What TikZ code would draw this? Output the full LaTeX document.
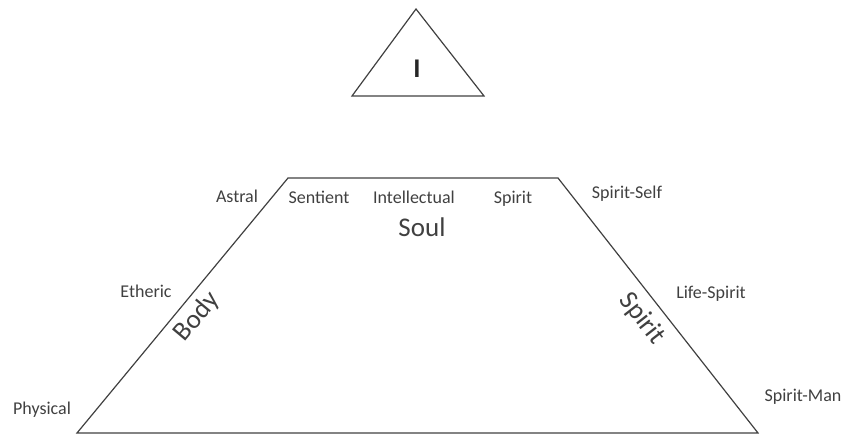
\documentclass[tikz,border=0pt]{standalone}
\usepackage{fontspec}
\setmainfont{Carlito}
\usetikzlibrary{positioning}
\definecolor{inkgray}{RGB}{64,64,64}

\begin{document}
\begin{tikzpicture}[x=1pt,y=-1pt,
  lbl/.style={font=\fontsize{18}{20}\selectfont,text=inkgray,inner sep=0pt,anchor=base},
  big/.style={lbl,font=\fontsize{27}{30}\selectfont},
  edge/.style={draw=inkgray,line width=1.2pt,line join=miter}
]
\useasboundingbox (0,0) rectangle (844,435);
% the I triangle
\coordinate (itop) at (416,9);
\coordinate (ileft) at (352,96);
\coordinate (iright) at (484,96);
\draw[edge] (itop) -- (ileft) -- (iright) -- cycle;
\node[big,font=\fontsize{27}{30}\selectfont\bfseries,text=black!85] (ego) at (417,78) {I};

% trapezoid
\coordinate (tl) at (288,178);
\coordinate (tr) at (558,178);
\coordinate (br) at (758,433);
\coordinate (bl) at (77,433);
\draw[edge] (bl) -- (tl) -- (tr) -- (br) -- cycle;

% soul members along the top
\node[lbl] (sentient) at (319,204) {Sentient};
\node[lbl] (intellect) at (414,204) {Intellectual};
\node[lbl] (spiritsoul) at (513,204) {Spirit};
\node[big] (soul) at (422,237) {Soul};

% body side
\node[lbl] (astral) at (237,203) {Astral};
\node[lbl] (etheric) at (146,298) {Etheric};
\node[lbl] (physical) at (42,415) {Physical};
\node[big,anchor=center,rotate=50] (body) at (197,317) {Body};

% spirit side
\node[lbl] (spiritself) at (627,199) {Spirit-Self};
\node[lbl] (lifespirit) at (711,299) {Life-Spirit};
\node[lbl] (spiritman) at (803,402) {Spirit-Man};
\node[big,anchor=center,rotate=-52] (spirit) at (642,319) {Spirit};
\end{tikzpicture}
\end{document}
